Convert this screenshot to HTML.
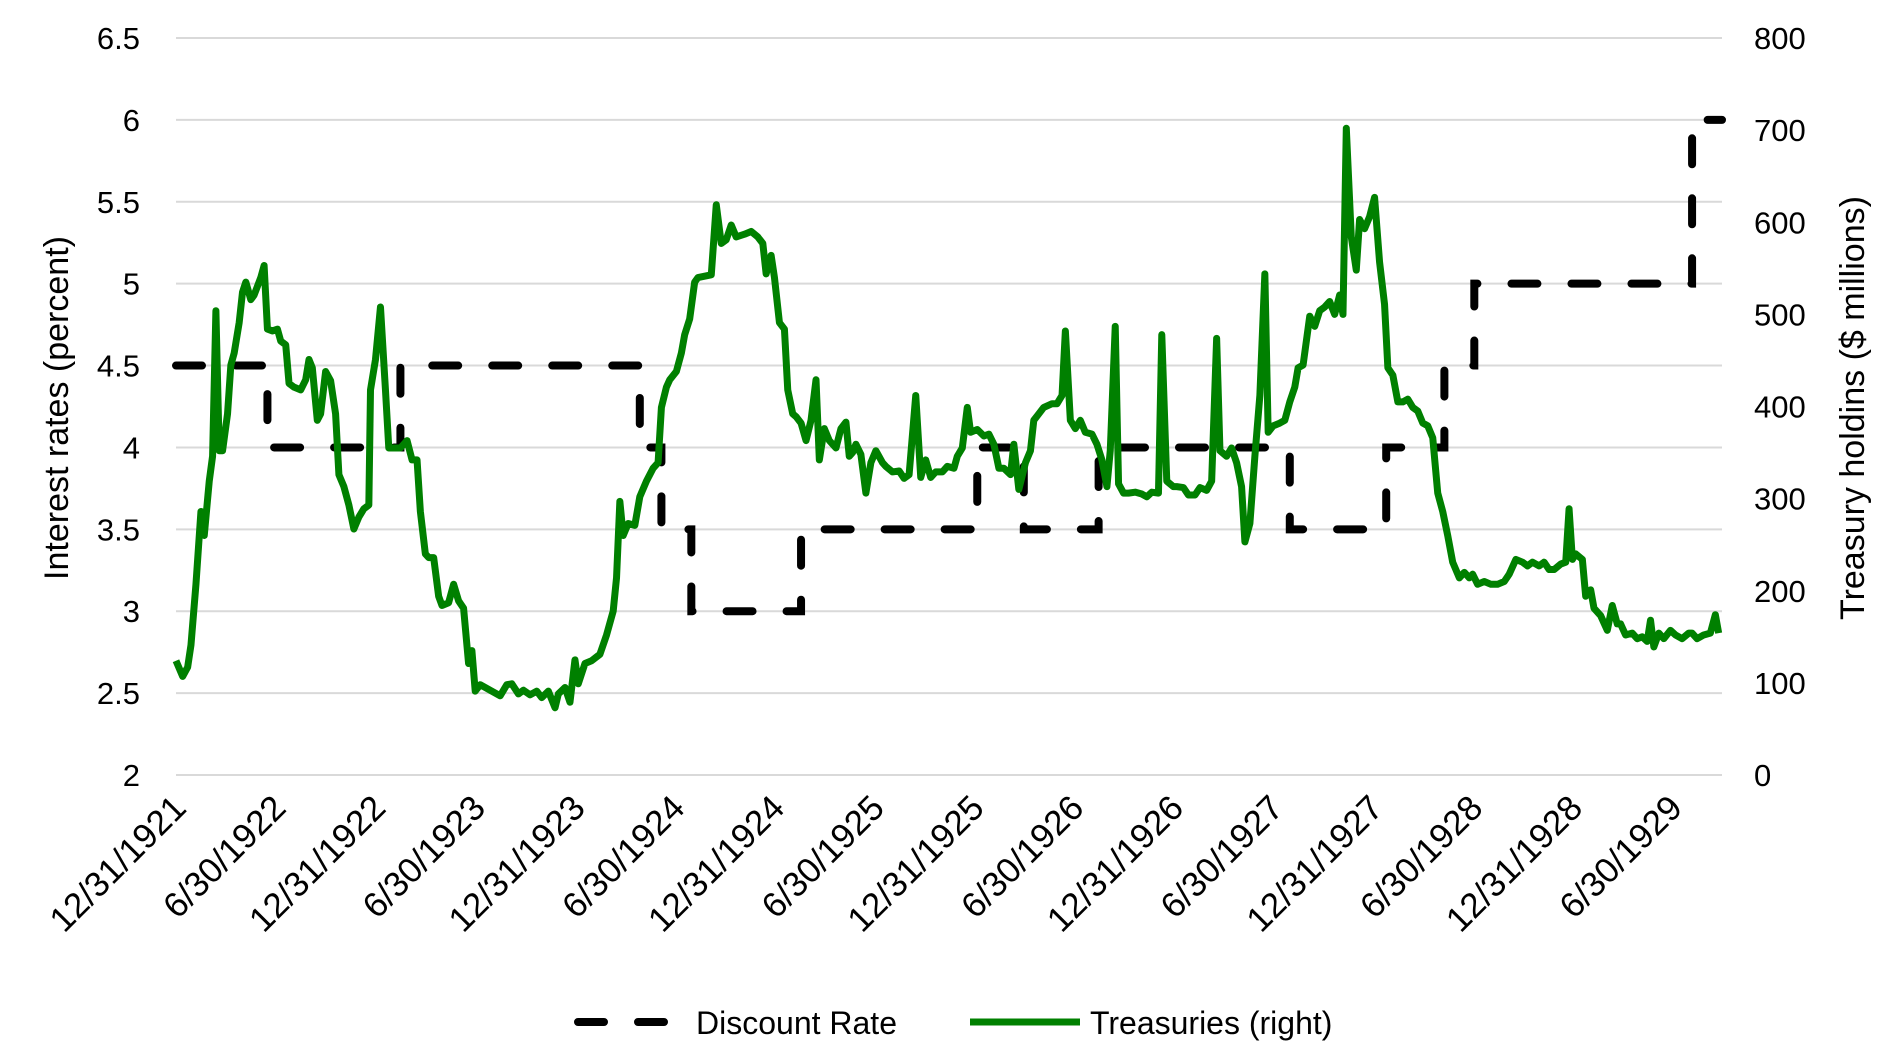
<!DOCTYPE html>
<html><head><meta charset="utf-8"><style>
body{margin:0;background:#fff;}
svg{display:block;font-family:"Liberation Sans",sans-serif;}
</style></head><body>
<svg id="chart" width="1898" height="1053"></svg>
<script>
const xTickLabels=["12/31/1921","6/30/1922","12/31/1922","6/30/1923","12/31/1923","6/30/1924","12/31/1924","6/30/1925","12/31/1925","6/30/1926","12/31/1926","6/30/1927","12/31/1927","6/30/1928","12/31/1928","6/30/1929"];
const leftTicks=[2,2.5,3,3.5,4,4.5,5,5.5,6,6.5];
const rightTicks=[0,100,200,300,400,500,600,700,800];
// discount rate steps: month offset since 12/31/1921, rate
const rateMonths=[0,5.5,13.5,27.9,29.2,31,37.6,48.2,51,55.5,67,72.8,76.3,78.1,91.2,93];
const rateValues=[4.5,4,4.5,4,3.5,3,3.5,4,3.5,4,3.5,4,4.5,5,6,6];
// treasuries: month offsets and $ millions
const tMonths=[0,0.4,0.7,0.9,1.2,1.5,1.7,2.0,2.2,2.4,2.6,2.8,3.1,3.3,3.5,3.8,4.0,4.2,4.5,4.7,5.1,5.3,5.5,5.8,6.1,6.3,6.6,6.8,7.1,7.5,7.8,8.0,8.2,8.5,8.7,9.0,9.3,9.6,9.8,10.1,10.4,10.7,11.0,11.3,11.6,11.7,12.0,12.3,12.6,12.8,13.5,13.9,14.2,14.5,14.7,15.0,15.2,15.5,15.8,16.0,16.4,16.7,17.0,17.3,17.6,17.8,18.0,18.3,19.0,19.5,19.9,20.2,20.6,20.9,21.3,21.7,22.0,22.4,22.8,23.0,23.4,23.7,24.0,24.2,24.6,25.0,25.5,25.9,26.3,26.5,26.7,26.9,27.2,27.6,27.9,28.3,28.7,29.0,29.2,29.5,29.7,30.1,30.4,30.6,30.9,31.2,31.4,32.2,32.5,32.8,33.1,33.4,33.7,34.2,34.6,35.0,35.3,35.5,35.8,36.0,36.3,36.6,36.8,37.1,37.3,37.6,37.9,38.2,38.5,38.7,39.0,39.3,39.7,40.0,40.3,40.5,40.7,40.9,41.2,41.5,41.8,42.1,42.5,42.7,43.1,43.5,43.8,44.1,44.5,44.8,45.1,45.4,45.7,46.1,46.4,46.8,47.0,47.3,47.6,47.8,48.2,48.6,48.9,49.2,49.5,49.8,50.2,50.4,50.7,51.1,51.4,51.6,51.9,52.2,52.7,53.0,53.3,53.5,53.8,54.1,54.4,54.7,55.1,55.4,55.7,56.0,56.2,56.5,56.7,57.0,57.3,57.7,58.1,58.4,58.7,59.1,59.3,59.6,60.0,60.2,60.6,60.9,61.3,61.6,62.0,62.3,62.6,62.8,63.2,63.5,63.8,64.1,64.3,64.6,64.9,65.2,65.5,65.7,66.0,66.4,66.7,67.0,67.3,67.5,67.8,68.2,68.5,68.8,69.1,69.4,69.7,70.0,70.2,70.4,70.7,71.0,71.2,71.5,71.8,72.1,72.4,72.7,72.9,73.2,73.5,73.8,74.1,74.4,74.7,75.0,75.3,75.6,75.9,76.2,76.5,76.8,77.2,77.5,77.8,78.0,78.3,78.7,79.1,79.5,79.9,80.2,80.6,81.0,81.3,81.6,82.0,82.3,82.6,82.9,83.3,83.6,83.8,84.0,84.2,84.6,84.8,85.1,85.3,85.7,86.1,86.4,86.7,86.9,87.2,87.6,87.9,88.2,88.5,88.7,88.9,89.2,89.5,89.9,90.2,90.6,91.0,91.2,91.5,91.9,92.3,92.6,92.8,93.0];
const tValues=[124,107,117,141,207,286,260,319,346,504,352,352,392,445,458,491,524,535,516,521,540,553,484,482,484,471,467,425,421,418,429,451,442,385,392,438,428,392,326,313,293,267,280,289,293,418,451,508,418,355,355,363,342,342,286,240,236,236,194,184,187,207,189,181,121,135,91,98,91,86,98,99,88,92,87,91,84,91,73,88,95,79,125,99,121,124,131,152,178,214,297,260,273,271,302,319,333,339,399,421,429,438,458,478,495,535,540,543,619,577,581,597,584,587,590,584,577,544,564,540,491,484,418,392,389,382,363,385,429,342,376,363,355,376,383,346,350,359,348,306,339,352,339,335,329,330,322,326,412,323,342,323,329,329,335,333,346,355,399,372,375,368,370,359,333,333,326,359,310,339,352,385,392,399,403,403,412,482,385,376,385,372,370,359,342,313,352,487,316,306,306,307,305,302,307,306,478,319,313,313,312,304,304,312,309,319,474,352,346,355,339,313,253,273,346,412,544,372,379,382,385,405,421,442,445,498,487,504,508,514,500,521,500,702,584,548,603,593,606,627,557,511,442,434,405,405,408,399,395,382,379,366,306,286,260,231,214,220,214,218,207,210,207,207,210,218,234,231,227,231,227,231,223,223,229,231,289,234,240,234,194,201,181,173,157,184,164,164,152,154,148,150,145,168,139,154,148,157,152,148,154,154,148,152,154,174,154];

const NS="http://www.w3.org/2000/svg";
const svg=document.getElementById('chart');
const X0=176,X1=1722,Y0=775,Y1=38;
const xS=m=>X0+(m/93)*(X1-X0);
const yL=v=>Y0-(v-2)/4.5*(Y0-Y1);
const yR=v=>Y0-v/800*(Y0-Y1);
function mk(tag,attrs,parent){const e=document.createElementNS(NS,tag);for(const k in attrs)e.setAttribute(k,attrs[k]);(parent||svg).appendChild(e);return e;}

const grid=mk('g',{});


leftTicks.forEach(v=>{
  const l=mk('line',{x1:X0,x2:X1,y1:yL(v),y2:yL(v),stroke:'#d9d9d9','stroke-width':2},grid);
  
  
  const t=mk('text',{x:140,y:yL(v)+11,'text-anchor':'end','font-size':31,fill:'#000'});
  t.textContent=v;
  
  
});
rightTicks.forEach(v=>{
  const t=mk('text',{x:1754,y:yR(v)+11,'text-anchor':'start','font-size':31,fill:'#000'});
  t.textContent=v;
  
  
});
xTickLabels.forEach((s,i)=>{
  const x=xS(i*6);
  const t=mk('text',{x:x+12,y:810,'text-anchor':'end','font-size':35,fill:'#000',transform:`rotate(-45 ${x+12} 810)`});
  t.textContent=s;
  
  
});
let lt=mk('text',{x:0,y:0,'font-size':34,'text-anchor':'middle',transform:'translate(68 408) rotate(-90)'});
lt.textContent='Interest rates (percent)';


let rt=mk('text',{x:0,y:0,'font-size':34,'text-anchor':'middle',transform:'translate(1864 408) rotate(-90)'});
rt.textContent='Treasury holdins ($ millions)';



// discount rate step line
let d='';
rateMonths.forEach((m,i)=>{
  if(i===0)d+=`M${xS(m)},${yL(rateValues[0])}`;
  else{d+=`L${xS(m)},${yL(rateValues[i-1])}L${xS(m)},${yL(rateValues[i])}`;}
});
const rp=mk('path',{d:d,fill:'none',stroke:'#000','stroke-width':8,'stroke-dasharray':'26 34','stroke-linecap':'round'});



const tp=mk('path',{d:tMonths.map((m,i)=>(i?'L':'M')+xS(m)+','+yR(tValues[i])).join(''),fill:'none',stroke:'#008000','stroke-width':7,'stroke-linejoin':'round'});



// legend
const lg=mk('g',{});


const l1=mk('line',{x1:578,x2:672,y1:1022,y2:1022,stroke:'#000','stroke-width':8,'stroke-dasharray':'26 34','stroke-linecap':'round'},lg);


const t1=mk('text',{x:696,y:1034,'font-size':32},lg);t1.textContent='Discount Rate';


const l2=mk('line',{x1:970,x2:1080,y1:1022,y2:1022,stroke:'#008000','stroke-width':7},lg);


const t2=mk('text',{x:1090,y:1034,'font-size':32},lg);t2.textContent='Treasuries (right)';


</script>
</body></html>
